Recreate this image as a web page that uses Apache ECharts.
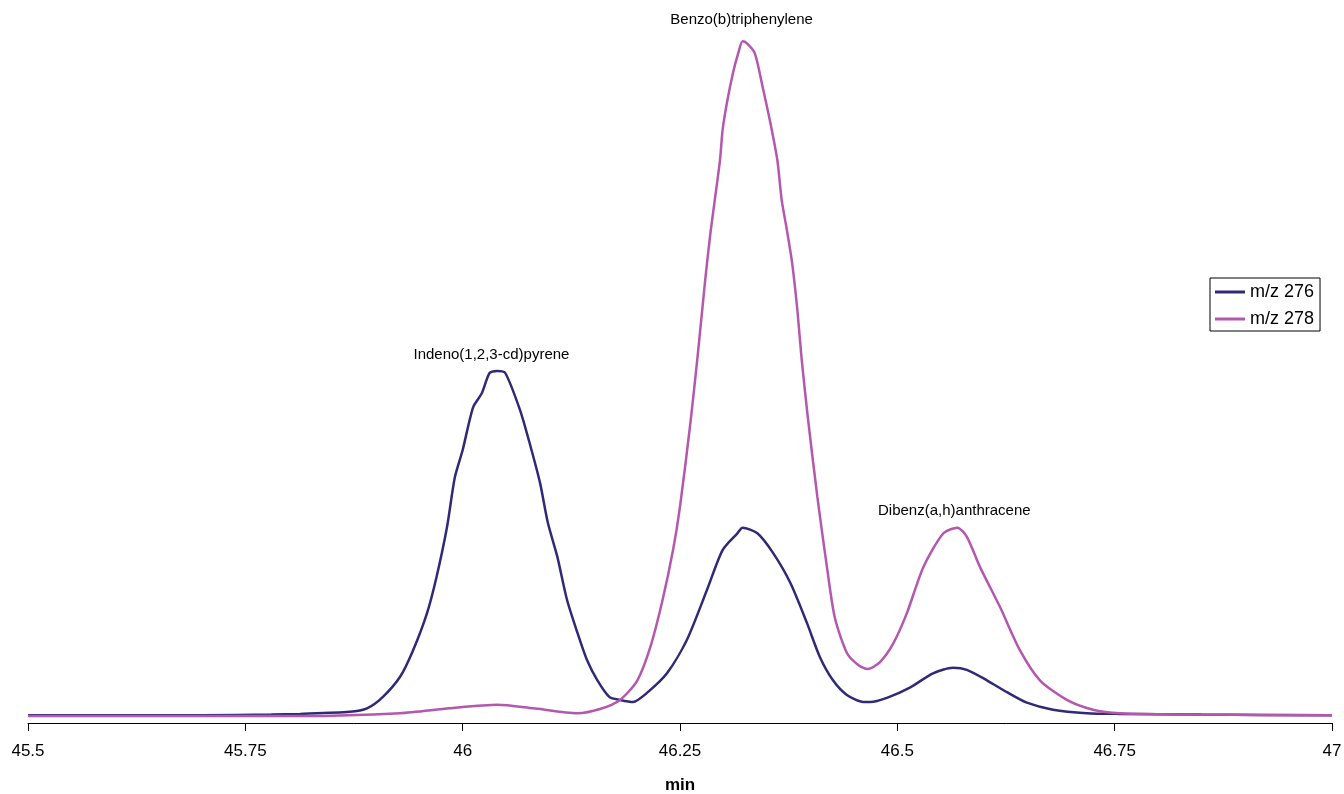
<!DOCTYPE html>
<html>
<head>
<meta charset="utf-8">
<script src="https://cdn.jsdelivr.net/npm/echarts@6/dist/echarts.min.js"></script>
<style>
  html, body { margin: 0; padding: 0; background: #fff; }
  #chart { width: 1344px; height: 794px; }
</style>
</head>
<body>
<div id="chart"></div>
<script>
// m/z 276 trace (retention time in min, relative intensity)
const t276 = [45.5, 45.6, 45.7, 45.78, 45.813, 45.87, 45.89, 45.908, 45.928, 45.943, 45.959, 45.97, 45.982, 45.991,
  46.0, 46.012, 46.022, 46.031, 46.04, 46.049, 46.066, 46.077, 46.089, 46.098, 46.109, 46.12, 46.132, 46.143,
  46.155, 46.169, 46.181, 46.196, 46.212, 46.235, 46.258, 46.281, 46.299, 46.316, 46.322, 46.339, 46.357, 46.377,
  46.396, 46.411, 46.426, 46.442, 46.461, 46.469, 46.488, 46.515, 46.541, 46.564, 46.58, 46.603, 46.626, 46.649,
  46.679, 46.718, 46.756, 46.85, 47.0];
const v276 = [1.1, 1.1, 1.1, 1.2, 1.3, 1.6, 2.1, 3.7, 6.6, 10.4, 15.7, 20.9, 28.0, 35.1,
  39.0, 45.1, 47.1, 50.0, 50.3, 50.0, 44.7, 40.0, 34.3, 28.6, 23.7, 17.6, 12.9, 9.0,
  6.1, 3.7, 3.3, 3.0, 4.3, 7.1, 11.9, 19.0, 24.7, 27.1, 27.9, 27.1, 24.3, 20.0,
  14.3, 9.4, 6.1, 4.0, 3.0, 3.0, 3.6, 5.1, 7.1, 7.9, 7.6, 6.1, 4.4, 2.9,
  1.9, 1.4, 1.3, 1.2, 1.1];

// m/z 278 trace
const t278 = [45.5, 45.6, 45.7, 45.813, 45.928, 45.985, 46.04, 46.081, 46.132, 46.158, 46.181, 46.201, 46.216,
  46.23, 46.242, 46.25, 46.262, 46.271, 46.279, 46.285, 46.29, 46.296, 46.299, 46.304, 46.311, 46.317, 46.322,
  46.327, 46.336, 46.345, 46.354, 46.362, 46.367, 46.373, 46.379, 46.385, 46.39, 46.397, 46.408, 46.419, 46.428,
  46.442, 46.455, 46.466, 46.48, 46.495, 46.511, 46.53, 46.553, 46.569, 46.58, 46.595, 46.618, 46.641, 46.664,
  46.695, 46.725, 46.756, 46.85, 47.0];
const v278 = [1.0, 1.0, 1.0, 1.0, 1.4, 2.1, 2.6, 2.1, 1.4, 2.0, 3.3, 6.1, 10.9,
  17.6, 24.7, 30.9, 42.9, 53.3, 63.3, 70.0, 74.7, 80.4, 84.7, 88.6, 92.9, 95.7, 97.4,
  97.1, 95.7, 90.9, 85.7, 80.4, 74.7, 70.4, 65.7, 59.0, 51.9, 43.7, 32.3, 22.3, 15.1,
  10.0, 8.3, 7.7, 8.7, 11.3, 15.7, 22.3, 27.1, 27.9, 26.6, 22.3, 16.6, 10.4, 6.1,
  3.3, 1.9, 1.4, 1.2, 1.1];

const xTicks = [45.5, 45.75, 46, 46.25, 46.5, 46.75, 47];
const seriesNames = ['m/z 276', 'm/z 278'];
const colors = ['#2f2a78', '#b457ae'];

const pairs = (ts, vs) => ts.map((t, i) => [t, vs[i]]);

// highest point of a trace inside a time window
const peakIn = (ts, vs, lo, hi) => {
  let best = null;
  ts.forEach((t, i) => {
    if (t >= lo && t <= hi && (!best || vs[i] > best[1])) best = [t, vs[i]];
  });
  return best;
};

const labelFont = { fontFamily: 'Liberation Sans, Arial, sans-serif', fontSize: 15, color: '#000' };

const peakLabel = (coord, text, offset) => ({
  coord: coord,
  symbol: 'circle',
  symbolSize: 0,
  label: Object.assign({ show: true, position: 'inside', formatter: text, offset: offset }, labelFont)
});

const chart = echarts.init(document.getElementById('chart'));

const option = {
  animation: false,
  backgroundColor: '#fff',
  grid: { left: 28, right: 12, top: 23, bottom: 71, outerBoundsMode: 'none' },
  legend: {
    data: seriesNames,
    orient: 'vertical',
    left: 1210,
    top: 278,
    padding: [5, 6, 3, 5],
    itemGap: 9,
    itemWidth: 30,
    itemHeight: 3,
    itemTextGap: 3,
    icon: 'rect',
    borderColor: '#000',
    borderWidth: 1,
    textStyle: { fontFamily: 'Liberation Sans, Arial, sans-serif', fontSize: 18, color: '#000' }
  },
  xAxis: {
    type: 'value',
    min: xTicks[0],
    max: xTicks[xTicks.length - 1],
    interval: 0.25,
    name: 'min',
    nameLocation: 'middle',
    nameGap: 54,
    nameTextStyle: { fontFamily: 'Liberation Sans, Arial, sans-serif', fontSize: 17, fontWeight: 'bold', color: '#000' },
    axisLine: { lineStyle: { color: '#000', width: 1 } },
    axisTick: { show: true, length: 8, lineStyle: { color: '#000' } },
    axisLabel: {
      margin: 20,
      fontFamily: 'Liberation Sans, Arial, sans-serif',
      fontSize: 17,
      color: '#000',
      showMinLabel: true,
      showMaxLabel: true
    },
    splitLine: { show: false }
  },
  yAxis: {
    type: 'value',
    min: 0,
    max: 100,
    show: false
  },
  series: [
    {
      name: seriesNames[0],
      type: 'line',
      data: pairs(t276, v276),
      smooth: 0.25,
      showSymbol: false,
      color: colors[0],
      lineStyle: { width: 2.5, color: colors[0] },
      markPoint: {
        data: [peakLabel(peakIn(t276, v276, 45.9, 46.2), 'Indeno(1,2,3-cd)pyrene', [-6, -16])]
      }
    },
    {
      name: seriesNames[1],
      type: 'line',
      data: pairs(t278, v278),
      smooth: 0.25,
      showSymbol: false,
      color: colors[1],
      lineStyle: { width: 2.5, color: colors[1] },
      markPoint: {
        data: [
          peakLabel(peakIn(t278, v278, 46.2, 46.45), 'Benzo(b)triphenylene', [-1, -21]),
          peakLabel(peakIn(t278, v278, 46.45, 46.8), 'Dibenz(a,h)anthracene', [-3, -17])
        ]
      }
    }
  ]
};

chart.setOption(option);
</script>
</body>
</html>
